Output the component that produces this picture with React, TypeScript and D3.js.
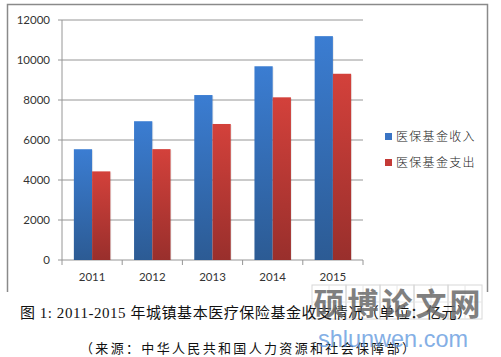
import React from "react";
import * as d3 from "d3";

const years = ["2011", "2012", "2013", "2014", "2015"];
const income = [5539, 6939, 8248, 9687, 11193];
const expense = [4431, 5544, 6801, 8134, 9312];
const seriesNames = ["医保基金收入", "医保基金支出"];
const yTicks = [0, 2000, 4000, 6000, 8000, 10000, 12000];
const caption1 = "图 1: 2011-2015 年城镇基本医疗保险基金收支情况（单位：亿元）";
const caption2 = "（来源：中华人民共和国人力资源和社会保障部）";
const wmChars = ["硕", "博", "论", "文", "网"];

export default function App() {
  const W = 501, H = 357;
  const x = d3.scaleBand<string>().domain(years).range([62, 363]).paddingInner(0).paddingOuter(0);
  const inner = d3.scaleBand<string>().domain(["a", "b"]).range([0, x.bandwidth()]).paddingInner(0).paddingOuter(0.65);
  const y = d3.scaleLinear().domain([0, 12000]).range([260, 20]);
  const series = [income, expense];
  const gradIds = ["gBlue", "gRed"];
  const legendColors = ["#3a74c4", "#c43a36"];

  return (
    <svg width={W} height={H} style={{ position: "absolute", left: 0, top: 0 }}>
      <defs>
        <linearGradient id="gBlue" x1="0" y1="0" x2="0" y2="1">
          <stop offset="0" stopColor="#3b7dd2" />
          <stop offset="1" stopColor="#2c5b94" />
        </linearGradient>
        <linearGradient id="gRed" x1="0" y1="0" x2="0" y2="1">
          <stop offset="0" stopColor="#d3413b" />
          <stop offset="1" stopColor="#992f2c" />
        </linearGradient>
      </defs>
      <rect x={0} y={0} width={W} height={H} fill="#fff" />
      {/* frame */}
      <path d="M7.5,292 V4.5 H487.5 V292" fill="none" stroke="#8a8a8a" strokeWidth={1.5} />
      {/* gridlines */}
      {yTicks.map((t) => (
        <g key={t}>
          <line x1={58} x2={363} y1={y(t)} y2={y(t)} stroke="#969696" strokeWidth={1} />
          <text x={50} y={y(t)} dy="0.35em" textAnchor="end" fontFamily="Lato, 'Open Sans', sans-serif" fontSize={11.5} fill="#333">{t}</text>
        </g>
      ))}
      <line x1={62} x2={62} y1={20} y2={260} stroke="#969696" />
      {/* x ticks */}
      {years.map((yr) => (
        <line key={"t" + yr} x1={x(yr)!} x2={x(yr)!} y1={260} y2={265} stroke="#969696" />
      ))}
      <line x1={363} x2={363} y1={260} y2={265} stroke="#969696" />
      {/* bars */}
      {series.map((vals, si) =>
        vals.map((v, i) => {
          const bx = x(years[i])! + inner(si === 0 ? "a" : "b")!;
          return (
            <g key={si + "-" + i}>
              <rect x={bx + 1} y={y(v) + 1} width={inner.bandwidth()} height={260 - y(v) - 1} fill="#000" opacity={0.08} />
              <rect x={bx} y={y(v)} width={inner.bandwidth()} height={260 - y(v)} fill={`url(#${gradIds[si]})`} />
            </g>
          );
        })
      )}
      {years.map((yr) => (
        <text key={"l" + yr} x={x(yr)! + x.bandwidth() / 2} y={281} textAnchor="middle" fontFamily="Lato, 'Open Sans', sans-serif" fontSize={11.5} fill="#333">{yr}</text>
      ))}
      {/* legend */}
      {seriesNames.map((n, i) => (
        <g key={n}>
          <rect x={385} y={133 + i * 26} width={7} height={7} fill={legendColors[i]} />
          <text x={396} y={141 + i * 26} fontFamily="'Noto Sans CJK SC', sans-serif" fontSize={12} letterSpacing={1.3} fill="#222" fontWeight={300}>{n}</text>
        </g>
      ))}
      {/* watermark boxes */}
      {wmChars.map((c, i) => (
        <g key={c}>
          <rect x={312 + i * 34} y={285} width={34} height={34} fill="none" stroke="#d8d8d8" strokeWidth={1} />
          <line x1={312 + i * 34 + 17} x2={312 + i * 34 + 17} y1={285} y2={319} stroke="#e6e6e6" />
          <line x1={312 + i * 34} x2={312 + i * 34 + 34} y1={302} y2={302} stroke="#e6e6e6" />
        </g>
      ))}
      {/* captions */}
      <text x={20} y={318} textLength={452} lengthAdjust="spacing" fontFamily="'Liberation Serif', 'Noto Sans CJK SC', serif" fontSize={15} fill="#111">{caption1}</text>
      <text x={80} y={353} textLength={335} lengthAdjust="spacing" fontFamily="'Liberation Serif', 'Noto Sans CJK SC', serif" fontSize={13} fill="#111">{caption2}</text>
      {/* watermark text */}
      {wmChars.map((c, i) => (
        <text key={"w" + c} x={312 + i * 34 + 17} y={315} textAnchor="middle" fontFamily="'Noto Sans CJK SC', sans-serif" fontWeight={700} fontSize={31} fill="#6a6a6a" opacity={0.85}>{c}</text>
      ))}
      <text x={318} y={347} textLength={150} lengthAdjust="spacingAndGlyphs" fontFamily="'Liberation Sans', Arial, sans-serif" fontSize={24} fill="#5b95dd" opacity={0.75}>shlunwen.com</text>
    </svg>
  );
}
